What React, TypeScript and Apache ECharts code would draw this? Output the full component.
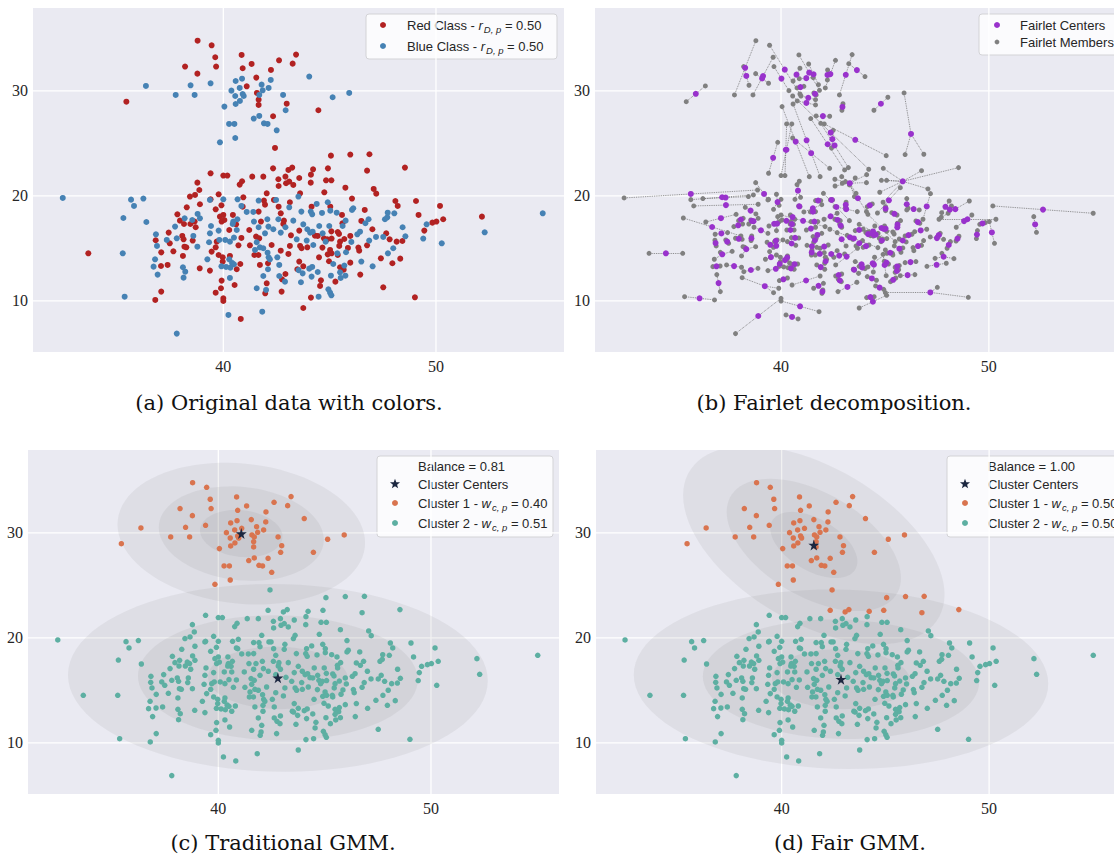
import React, { useEffect, useRef } from "react";
import * as echarts from "echarts";

type Pt = [number, number];

// ---------------- data ----------------
const RED_CLASS: Pt[] = [
  [38.79,34.79],[39.45,34.35],[39.62,33.21],[39.66,32.32],[38.20,32.32],[38.78,31.65],[40.86,33.43],[40.91,32.16],[41.33,32.57],[42.62,32.92],[43.42,33.46],[43.26,32.60],[42.24,32.00],[41.55,31.27],[41.10,30.44],[41.58,29.81],[41.66,29.17],[41.66,28.67],[42.98,28.79],[42.34,27.59],[42.43,24.57],[35.44,28.98],[42.34,22.63],[43.06,22.48],[43.24,22.70],[39.40,22.16],
  [44.47,28.16],[45.06,23.84],[45.97,23.94],[46.87,23.97],[44.22,22.54],[44.92,22.63],[46.76,22.41],[48.54,22.70],
  [40.00,21.94],[40.19,21.94],[41.36,21.84],[41.88,21.84],[42.59,21.59],[42.92,21.84],[40.77,21.08],[40.88,21.40],[38.78,21.27],[38.87,20.57],[38.67,20.10],[38.43,19.94],[39.40,19.68],[39.78,20.16],[42.04,20.25],[42.60,20.95],[42.95,21.21],[43.10,21.37],[43.29,21.05],[40.94,19.87],[39.91,19.11],[38.90,19.21],[38.28,18.92],[39.64,18.73],[40.91,18.98],[41.91,19.56],[41.96,19.17],[42.38,19.62],[42.60,18.98],[42.70,18.35],[43.13,19.40],[37.84,18.25],[37.96,17.65],[38.15,17.33],[38.45,17.33],[38.65,17.56],[38.70,17.02],[39.84,18.03],[40.00,18.19],[39.92,17.56],[40.05,17.71],[40.45,18.19],[40.60,17.30],[40.28,16.76],[41.66,18.51],[41.77,17.56],[41.22,16.76],[41.54,16.13],[41.69,15.97],[42.85,17.65],[42.82,17.33],[43.18,16.25],[37.43,16.51],[36.82,15.78],[37.48,15.49],[37.65,14.73],[37.08,14.63],[38.07,16.19],[38.13,15.87],[38.17,15.17],[38.26,15.11],[38.56,15.75],[38.10,14.29],[39.45,14.70],[39.64,15.11],[39.69,15.65],[39.78,14.38],[39.97,14.16],[39.97,13.75],[40.31,14.29],[40.71,15.30],[40.85,16.00],[40.80,13.52],[40.63,13.02],[41.25,15.30],[41.46,14.38],[41.65,14.38],[41.72,13.43],[42.10,13.59],[42.27,15.33],[42.70,14.79],[43.06,14.48],[43.13,15.24],[42.92,12.57],[42.76,12.06],[42.04,11.68],[41.97,10.73],[42.74,10.89],[40.53,11.52],[39.92,11.94],[39.89,11.21],[39.64,10.79],[40.00,10.25],[40.00,10.00],[38.89,13.11],[39.37,12.89],[37.38,13.43],[37.07,13.33],[37.08,10.89],[36.80,10.10],[33.65,14.54],[40.82,8.29],
  [43.57,21.71],[44.12,22.03],[44.11,21.27],[44.83,21.49],[45.08,21.49],[43.61,20.25],[44.75,20.35],[45.74,20.79],[47.07,20.67],[47.19,20.22],[46.05,19.75],[44.15,18.98],[45.03,18.98],[45.58,18.19],[46.65,18.67],[48.09,19.52],[48.20,19.05],[49.06,19.52],[49.18,18.19],[50.19,19.05],[49.83,17.46],[50.02,17.56],[50.34,17.78],[49.45,16.70],[52.16,18.03],[46.49,17.62],[47.01,16.83],[45.60,17.40],[43.57,16.70],[44.31,16.22],[44.44,16.19],[44.73,15.97],[44.89,15.87],[45.09,15.94],[45.08,16.63],[45.38,16.57],[45.44,16.38],[45.69,15.90],[45.97,16.19],[43.61,15.24],[43.68,15.02],[43.95,15.11],[44.66,15.08],[44.91,14.44],[45.02,14.86],[45.09,14.54],[45.38,14.38],[45.49,15.65],[45.45,15.24],[45.86,15.05],[46.35,15.08],[46.39,14.79],[46.76,15.30],[47.82,15.87],[47.66,16.44],[48.15,15.65],[48.42,15.71],[47.41,14.06],[48.32,14.03],[47.95,13.59],[45.97,13.65],[46.44,12.51],[45.49,13.21],[45.66,12.98],[44.50,14.16],[44.97,13.78],[43.57,13.75],[43.76,13.30],[43.48,13.02],[44.59,11.97],[44.55,11.43],[45.27,11.84],[47.52,11.30],[49.01,10.35],[44.12,10.32],[43.76,9.33],
];

const BLUE_CLASS: Pt[] = [
  [36.36,30.48],[37.76,29.62],[38.46,30.54],[38.65,29.62],[39.40,30.73],[40.05,28.51],[40.38,30.03],[40.58,30.95],[40.88,31.17],[40.77,30.29],[40.56,29.52],[40.91,29.71],[40.96,29.52],[40.78,29.05],[40.58,28.76],[41.80,30.60],[41.85,30.06],[41.69,29.62],[42.13,30.29],[42.23,31.05],[42.81,29.62],[42.93,28.16],[41.69,27.62],[41.43,27.37],[41.91,26.92],[42.08,26.86],[42.51,26.25],[40.27,26.86],[40.52,26.86],[40.56,25.52],[39.84,25.11],
  [44.04,31.37],[45.14,29.40],[45.92,29.81],
  [32.45,19.81],[35.66,19.65],[36.24,19.75],[35.80,19.05],[35.30,17.90],[36.38,17.52],[36.83,16.35],[36.88,15.24],[36.79,13.97],[36.72,13.27],[36.91,12.51],[35.27,14.54],[35.36,10.41],[37.34,15.81],[37.73,17.08],[37.81,15.97],[38.18,17.87],[38.54,17.71],[38.79,18.29],[38.90,17.87],[38.59,16.19],[38.78,15.17],[38.10,13.21],[38.21,12.79],[38.13,12.22],[37.81,6.89],[39.25,13.97],[39.37,19.62],[40.00,19.68],[39.42,17.14],[39.37,16.44],[39.33,15.59],[39.78,16.70],[39.81,15.81],[40.09,15.81],[40.31,15.65],[40.50,16.03],[40.63,16.76],[40.47,17.56],[40.66,17.78],[40.44,17.33],[40.67,19.68],[40.85,19.05],[41.10,18.48],[41.41,18.48],[41.66,19.56],[41.44,17.56],[41.66,17.02],[41.96,16.44],[42.07,17.78],[42.12,17.08],[42.35,16.83],[42.48,19.62],[42.59,17.78],[42.70,16.51],[42.92,17.02],[43.10,18.92],[43.29,17.65],[41.57,15.59],[41.72,15.11],[41.49,14.86],[41.88,15.02],[42.08,14.60],[42.13,14.16],[42.19,13.97],[42.54,14.16],[42.63,13.43],[42.10,13.02],[41.88,12.38],[41.57,11.21],[42.01,11.05],[42.63,12.38],[42.90,11.84],[40.28,13.97],[40.41,13.62],[40.50,13.49],[39.91,13.30],[40.13,13.24],[40.33,13.17],[40.31,12.19],[40.24,8.67],[41.83,8.98],
  [43.53,19.94],[43.67,18.51],[44.11,18.51],[44.18,18.25],[44.39,19.24],[44.64,18.38],[44.91,19.40],[45.03,18.60],[45.33,18.41],[46.05,18.67],[46.11,18.83],[45.75,17.65],[45.61,17.14],[46.68,17.40],[46.83,17.78],[47.60,17.78],[47.71,17.97],[47.73,18.41],[48.04,18.35],[48.43,17.02],[48.56,16.16],[47.18,16.10],[47.52,16.10],[46.86,15.75],[46.43,16.60],[46.30,16.35],[46.02,15.62],[45.77,14.64],[46.49,13.75],[47.02,13.30],[47.74,14.54],[47.99,15.02],[49.40,15.94],[49.56,17.30],[50.27,15.49],[52.29,16.54],[55.02,18.35],[43.76,17.30],[43.95,16.83],[44.08,16.51],[44.20,16.60],[44.51,17.14],[44.67,16.44],[44.98,17.14],[44.81,15.65],[44.23,15.33],[43.92,15.75],[43.45,15.87],[43.54,12.94],[43.73,12.63],[44.04,13.08],[44.18,13.24],[44.44,12.76],[44.15,12.32],[43.65,11.78],[45.06,12.41],[45.49,12.73],[45.52,12.19],[45.74,12.41],[45.17,13.52],[45.69,13.37],[44.94,11.11],[45.02,10.79],[45.08,10.54],[44.48,10.41],[45.36,14.54],
];

const X_TICKS = [40, 50];
const Y_TICKS = [10, 20, 30];
const X_RANGE: Pt = [31.05, 56.02];
const Y_RANGE: Pt = [5.14, 37.9];

const CAPTIONS = [
  "(a) Original data with colors.",
  "(b) Fairlet decomposition.",
  "(c) Traditional GMM.",
  "(d) Fair GMM.",
];

// GMM components: [meanX, meanY, sdX, sdY, correlation]
const GMM_TRADITIONAL = [
  [41.08, 29.94, 1.94, 2.25, -0.13],
  [42.8, 16.2, 3.29, 2.98, -0.03],
];
const GMM_FAIR = [
  [41.55, 28.86, 2.1, 3.15, -0.5],
  [42.86, 16.07, 3.33, 2.85, -0.05],
];
const SIGMA_LEVELS = [1, 2, 3];
const CLASS_RATIOS = ["0.50", "0.50"];
const BALANCES = ["0.81", "1.00"];
const WEIGHTS_TRADITIONAL = ["0.40", "0.51"];
const WEIGHTS_FAIR = ["0.50", "0.50"];
// lowest y that belongs to cluster 1 in each model
const CLUSTER1_MIN_Y_TRADITIONAL = 25.0;
const CLUSTER1_MIN_Y_FAIR = 22.3;

// ---------------- styling ----------------
const PLOT_BG = "#EAEAF2";
const C = {
  red: "#B22222",
  blue: "#4682B4",
  center: "#9932CC",
  member: "#808080",
  c1: "#D9744F",
  c2: "#5DAFA2",
  star: "#1C2740",
  text: "#262626",
};
const GRIDS = [
  { left: 33, top: 8 },
  { left: 595, top: 8 },
  { left: 28, top: 450 },
  { left: 596, top: 450 },
];
const PW = 531;
const PH = 344;
const TICK_FONT = '16px "Liberation Serif"';
const LEG_FONT = '"Liberation Sans"';
const STAR_PATH =
  "path://M50,0 L61,35 L98,35 L68,57 L79,91 L50,70 L21,91 L32,57 L2,35 L39,35 Z";

let measureCtx: CanvasRenderingContext2D | null = null;
function textWidth(t: string, font: string) {
  if (!measureCtx) measureCtx = document.createElement("canvas").getContext("2d");
  measureCtx!.font = font;
  return measureCtx!.measureText(t).width;
}

function buildFairlets(red: Pt[], blue: Pt[]) {
  const cand: [number, number, number][] = [];
  red.forEach((r, i) =>
    blue.forEach((b, j) => cand.push([Math.hypot(r[0] - b[0], r[1] - b[1]), i, j]))
  );
  cand.sort((a, b) => a[0] - b[0]);
  const usedR = red.map(() => false);
  const usedB = blue.map(() => false);
  const groups: Pt[][] = [];
  for (const [, i, j] of cand) {
    if (!usedR[i] && !usedB[j]) {
      usedR[i] = true;
      usedB[j] = true;
      groups.push([red[i], blue[j]]);
    }
  }
  const centerOf = (g: Pt[]): Pt => [
    g.reduce((s, p) => s + p[0], 0) / g.length,
    g.reduce((s, p) => s + p[1], 0) / g.length,
  ];
  const left = [...red.filter((_, i) => !usedR[i]), ...blue.filter((_, j) => !usedB[j])];
  for (const p of left) {
    let best = 0;
    let bd = Infinity;
    groups.forEach((g, k) => {
      const c = centerOf(g);
      const d = Math.hypot(c[0] - p[0], c[1] - p[1]);
      if (d < bd) {
        bd = d;
        best = k;
      }
    });
    groups[best].push(p);
  }
  return groups.map((g) => ({ center: centerOf(g), members: g }));
}

function gridLineSeries(i: number) {
  return [
    {
      type: "custom",
      xAxisIndex: i,
      yAxisIndex: i,
      z: 1,
      silent: true,
      dimensions: ["x", "y"],
      encode: { x: "x", y: "y" },
      data: X_TICKS.map((v) => [v, Y_RANGE[0]]),
      renderItem: (params: any, api: any) => {
        const cs = params.coordSys;
        const x = api.coord([api.value(0), api.value(1)])[0];
        return {
          type: "group",
          children: [
            {
              type: "line",
              shape: { x1: x, y1: cs.y, x2: x, y2: cs.y + cs.height },
              style: { stroke: "#ffffff", lineWidth: 1.3 },
            },
            {
              type: "text",
              x,
              y: cs.y + cs.height + 6,
              style: {
                text: String(api.value(0)),
                font: TICK_FONT,
                fill: C.text,
                align: "center",
                verticalAlign: "top",
              },
            },
          ],
        };
      },
    },
    {
      type: "custom",
      xAxisIndex: i,
      yAxisIndex: i,
      z: 1,
      silent: true,
      dimensions: ["x", "y"],
      encode: { x: "x", y: "y" },
      data: Y_TICKS.map((v) => [X_RANGE[0], v]),
      renderItem: (params: any, api: any) => {
        const cs = params.coordSys;
        const y = api.coord([api.value(0), api.value(1)])[1];
        return {
          type: "group",
          children: [
            {
              type: "line",
              shape: { x1: cs.x, y1: y, x2: cs.x + cs.width, y2: y },
              style: { stroke: "#ffffff", lineWidth: 1.3 },
            },
            {
              type: "text",
              x: cs.x - 5,
              y,
              style: {
                text: String(api.value(1)),
                font: TICK_FONT,
                fill: C.text,
                align: "right",
                verticalAlign: "middle",
              },
            },
          ],
        };
      },
    },
  ];
}

function ellipseSeries(i: number, comps: number[][]) {
  const data: number[][] = [];
  comps.forEach((c) => SIGMA_LEVELS.forEach((k) => data.push([...c, k])));
  return {
    type: "custom",
    xAxisIndex: i,
    yAxisIndex: i,
    z: 2,
    silent: true,
    clip: true,
    dimensions: ["mx", "my", "sx", "sy", "rho", "k"],
    encode: { x: "mx", y: "my" },
    data,
    renderItem: (_p: any, api: any) => {
      const mx = api.value(0), my = api.value(1), sx = api.value(2), sy = api.value(3);
      const rho = api.value(4), k = api.value(5);
      const pts: number[][] = [];
      const s = Math.sqrt(1 - rho * rho);
      for (let t = 0; t < 90; t++) {
        const a = (t / 90) * Math.PI * 2;
        const dx = k * sx * Math.cos(a);
        const dy = k * sy * (rho * Math.cos(a) + s * Math.sin(a));
        pts.push(api.coord([mx + dx, my + dy]));
      }
      return { type: "polygon", shape: { points: pts }, style: { fill: "rgba(125,125,130,0.11)" } };
    },
  };
}

function scatter(i: number, data: Pt[], color: string, size: number, z = 3, symbol = "circle") {
  return {
    type: "scatter",
    xAxisIndex: i,
    yAxisIndex: i,
    data,
    symbol,
    symbolSize: size,
    itemStyle: { color, opacity: 1 },
    silent: true,
    z,
  };
}

type Seg = { t: string; it?: boolean; sub?: boolean };
type Row = { marker?: "circle" | "small" | "star"; color?: string; segs: Seg[] };

function starPoints(cx: number, cy: number, R: number, r: number) {
  const pts: number[][] = [];
  for (let i = 0; i < 10; i++) {
    const a = -Math.PI / 2 + (i * Math.PI) / 5;
    const rad = i % 2 === 0 ? R : r;
    pts.push([cx + rad * Math.cos(a), cy + rad * Math.sin(a)]);
  }
  return pts;
}

function legend(box: { x: number; y: number; w: number; h: number }, markerX: number, textX: number, rowsY: number[], rows: Row[]) {
  const children: any[] = [
    {
      type: "rect",
      shape: { x: box.x, y: box.y, width: box.w, height: box.h, r: 3 },
      style: { fill: "rgba(255,255,255,0.82)", stroke: "#D3D3D6", lineWidth: 1 },
    },
  ];
  rows.forEach((row, k) => {
    const y = rowsY[k];
    if (row.marker === "circle" || row.marker === "small") {
      children.push({
        type: "circle",
        shape: { cx: markerX, cy: y, r: row.marker === "small" ? 2.4 : 3 },
        style: { fill: row.color },
      });
    } else if (row.marker === "star") {
      children.push({
        type: "polygon",
        shape: { points: starPoints(markerX, y, 5.3, 2.2) },
        style: { fill: row.color },
      });
    }
    let x = textX;
    row.segs.forEach((s) => {
      const size = s.sub ? 9.5 : 13;
      const font = `${s.it ? "italic " : ""}${size}px ${LEG_FONT}`;
      children.push({
        type: "text",
        x,
        y: y + (s.sub ? 4 : 0),
        style: { text: s.t, font, fill: C.text, verticalAlign: "middle", align: "left" },
      });
      x += textWidth(s.t, font) + (s.it && !s.sub ? 1 : 0);
    });
  });
  return { type: "group", z: 100, children };
}

function buildOption() {
  const fairlets = buildFairlets(RED_CLASS, BLUE_CLASS);
  const allPts: Pt[] = [...RED_CLASS, ...BLUE_CLASS];
  const lineData: any[] = [];
  fairlets.forEach((f) => f.members.forEach((m) => lineData.push({ coords: [f.center, m] })));
  const centers = fairlets.map((f) => f.center);

  const tradC1 = allPts.filter((p) => p[1] >= CLUSTER1_MIN_Y_TRADITIONAL);
  const tradC2 = allPts.filter((p) => p[1] < CLUSTER1_MIN_Y_TRADITIONAL);
  const fairC1 = allPts.filter((p) => p[1] >= CLUSTER1_MIN_Y_FAIR);
  const fairC2 = allPts.filter((p) => p[1] < CLUSTER1_MIN_Y_FAIR);

  const series: any[] = [];
  for (let i = 0; i < 4; i++) series.push(...gridLineSeries(i));

  series.push(scatter(0, RED_CLASS, C.red, 6));
  series.push(scatter(0, BLUE_CLASS, C.blue, 6));

  series.push({
    type: "lines",
    coordinateSystem: "cartesian2d",
    xAxisIndex: 1,
    yAxisIndex: 1,
    data: lineData,
    silent: true,
    z: 2,
    symbol: "none",
    lineStyle: { color: "#6E6E6E", width: 0.9, type: "dotted", opacity: 0.9 },
  });
  series.push(scatter(1, allPts, C.member, 5));
  series.push(scatter(1, centers, C.center, 6, 4));

  series.push(ellipseSeries(2, GMM_TRADITIONAL));
  series.push(scatter(2, tradC1, C.c1, 5.5));
  series.push(scatter(2, tradC2, C.c2, 5.5));
  series.push(scatter(2, GMM_TRADITIONAL.map((c) => [c[0], c[1]] as Pt), C.star, 11, 5, STAR_PATH));

  series.push(ellipseSeries(3, GMM_FAIR));
  series.push(scatter(3, fairC1, C.c1, 5.5));
  series.push(scatter(3, fairC2, C.c2, 5.5));
  series.push(scatter(3, GMM_FAIR.map((c) => [c[0], c[1]] as Pt), C.star, 11, 5, STAR_PATH));

  const captionFont = '21px "DejaVu Serif"';
  const captions = [
    { x: 289, y: 403 },
    { x: 834, y: 403 },
    { x: 283, y: 843 },
    { x: 850, y: 843 },
  ].map((p, k) => ({
    type: "text",
    x: p.x,
    y: p.y,
    z: 100,
    style: { text: CAPTIONS[k], font: captionFont, fill: "#111", align: "center", verticalAlign: "middle" },
  }));

  const clusterRows = (bal: string, w: string[]): Row[] => [
    { segs: [{ t: `Balance = ${bal}` }] },
    { marker: "star", color: C.star, segs: [{ t: "Cluster Centers" }] },
    { marker: "circle", color: C.c1, segs: [{ t: "Cluster 1 - " }, { t: "w", it: true }, { t: "c, p", it: true, sub: true }, { t: ` = ${w[0]}` }] },
    { marker: "circle", color: C.c2, segs: [{ t: "Cluster 2 - " }, { t: "w", it: true }, { t: "c, p", it: true, sub: true }, { t: ` = ${w[1]}` }] },
  ];

  const graphics = [
    ...captions,
    legend({ x: 366, y: 14, w: 191, h: 45 }, 383, 407, [25, 46], [
      { marker: "circle", color: C.red, segs: [{ t: "Red Class - " }, { t: "r", it: true }, { t: "D, p", it: true, sub: true }, { t: ` = ${CLASS_RATIOS[0]}` }] },
      { marker: "circle", color: C.blue, segs: [{ t: "Blue Class - " }, { t: "r", it: true }, { t: "D, p", it: true, sub: true }, { t: ` = ${CLASS_RATIOS[1]}` }] },
    ]),
    legend({ x: 979, y: 14, w: 150, h: 41 }, 997, 1020, [25, 42], [
      { marker: "circle", color: C.center, segs: [{ t: "Fairlet Centers" }] },
      { marker: "small", color: C.member, segs: [{ t: "Fairlet Members" }] },
    ]),
    legend({ x: 377, y: 456, w: 176, h: 81 }, 395, 418, [466, 484, 503, 523], clusterRows(BALANCES[0], WEIGHTS_TRADITIONAL)),
    legend({ x: 947, y: 456, w: 180, h: 81 }, 965, 988, [466, 484, 503, 523], clusterRows(BALANCES[1], WEIGHTS_FAIR)),
  ];

  return {
    animation: false,
    backgroundColor: "#ffffff",
    grid: GRIDS.map((g) => ({
      left: g.left,
      top: g.top,
      width: PW,
      height: PH,
      show: true,
      backgroundColor: PLOT_BG,
      borderWidth: 0,
    })),
    xAxis: GRIDS.map((_, i) => ({ type: "value", gridIndex: i, min: X_RANGE[0], max: X_RANGE[1], show: false })),
    yAxis: GRIDS.map((_, i) => ({ type: "value", gridIndex: i, min: Y_RANGE[0], max: Y_RANGE[1], show: false })),
    series,
    graphic: { elements: graphics },
  };
}

export default function App() {
  const ref = useRef<HTMLDivElement>(null);
  useEffect(() => {
    document.body.style.margin = "0";
    const chart = echarts.init(ref.current!, null, { renderer: "svg" });
    chart.setOption(buildOption() as any);
    return () => chart.dispose();
  }, []);
  return (
    <div
      ref={ref}
      style={{ position: "fixed", left: 0, top: 0, width: 1114, height: 854, background: "#fff", overflow: "hidden" }}
    />
  );
}
